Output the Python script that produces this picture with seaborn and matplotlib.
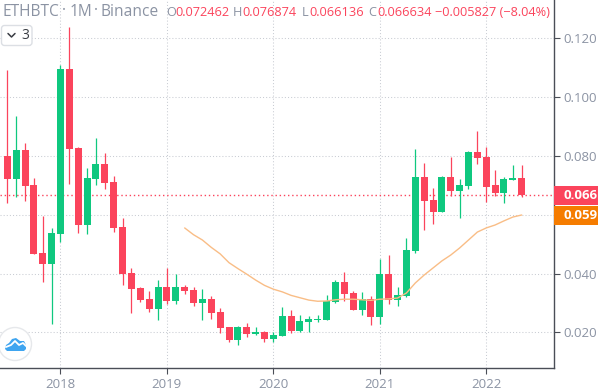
import numpy as np
import pandas as pd
import seaborn as sns
import matplotlib.pyplot as plt
from matplotlib.patches import Circle, FancyBboxPatch, Polygon, Rectangle

# monthly candles, index 0 is January 2018
months = list(range(-6, 53))
opens = [.0799, .0721, .0820, .0701, .0470, .0433, .0534, .1095, .0826, .0565, .0721, .0772, .0711,
         .0558, .0402, .0351, .0314, .0280, .0354, .0307, .0354, .0344, .0300, .0314, .0270,
         .0219, .0174, .0219, .0195, .0202, .0178, .0188, .0256, .0205, .0236, .0242, .0242,
         .0304, .0371, .0334, .0276, .0314, .0253, .0399, .0310, .0324, .0477, .0728, .0650,
         .0609, .0728, .0680, .0697, .0813, .0796, .0701, .0674, .0718, .0725]
highs = [.1091, .0935, .0843, .0725, .0596, .0555, .1108, .1237, .0830, .0759, .0860, .0809, .0731,
         .0589, .0419, .0354, .0341, .0378, .0419, .0399, .0361, .0354, .0348, .0324, .0283,
         .0219, .0222, .0232, .0219, .0205, .0202, .0287, .0276, .0259, .0256, .0259, .0327,
         .0378, .0405, .0341, .0338, .0324, .0450, .0463, .0354, .0521, .0823, .0775, .0691,
         .0731, .0796, .0721, .0816, .0884, .0830, .0752, .0728, .0769, .0769]
lows = [.0640, .0660, .0646, .0467, .0371, .0229, .0507, .0704, .0538, .0534, .0701, .0687, .0541,
        .0361, .0266, .0304, .0270, .0242, .0297, .0297, .0331, .0290, .0242, .0246, .0198,
        .0168, .0158, .0185, .0192, .0168, .0168, .0188, .0198, .0202, .0202, .0236, .0242,
        .0300, .0307, .0276, .0259, .0225, .0229, .0297, .0290, .0320, .0470, .0548, .0568,
        .0609, .0663, .0589, .0687, .0772, .0643, .0663, .0640, .0718, .0661]
closes = [.0721, .0820, .0697, .0467, .0433, .0538, .1095, .0823, .0565, .0725, .0772, .0708, .0555,
          .0399, .0348, .0310, .0280, .0354, .0307, .0354, .0341, .0300, .0314, .0266, .0215,
          .0174, .0219, .0195, .0202, .0178, .0192, .0256, .0205, .0239, .0246, .0246, .0307,
          .0371, .0331, .0276, .0314, .0253, .0399, .0310, .0327, .0480, .0728, .0646, .0609,
          .0728, .0680, .0701, .0813, .0792, .0694, .0674, .0721, .0725, .0666]

ma_months = list(range(14, 53))
ma_values = [.0555, .0532, .0514, .0489, .0467, .0437, .0417, .0398, .0378, .0360, .0347, .0338, .0326,
             .0318, .0310, .0306, .0307, .0311, .0313, .0313, .0311, .0309, .0313, .0314, .0317,
             .0334, .0368, .0395, .0419, .0443, .0463, .0487, .0514, .0541, .0555, .0565, .0579,
             .0592, .0599]

year_ticks = [0, 12, 24, 36, 48]
year_labels = ['2018', '2019', '2020', '2021', '2022']
price_ticks = [0.02, 0.04, 0.06, 0.08, 0.10, 0.12]
price_labels = ['0.020', '0.040', '0.060', '0.080', '0.100', '0.120']

RED = '#fb445c'
GREEN = '#0fc87f'
ORANGE = '#f57c00'
MA_COLOR = '#f9bd86'
GREY = '#8b93a3'
GRID = '#c9ccd3'
AXIS = '#4a4e57'
DOTS = (0, (1, 2))

sns.set_theme(style='white')
plt.rcParams['font.family'] = ['Open Sans', 'DejaVu Sans']

df = pd.DataFrame({'month': months, 'open': opens, 'high': highs, 'low': lows, 'close': closes})
df['color'] = np.where(df['close'] >= df['open'], GREEN, RED)
ma = pd.DataFrame({'month': ma_months, 'ma': ma_values})

fig = plt.figure(figsize=(5.98, 3.91), dpi=100, facecolor='white')
ax = fig.add_axes([0, 1 - 368 / 391, 554 / 598, 368 / 391])

ax.grid(True, color=GRID, linestyle=DOTS, linewidth=0.75)
ax.set_axisbelow(True)

ax.vlines(df['month'], df['low'], df['high'], colors=df['color'], linewidth=0.9, zorder=2)
ax.bar(df['month'], (df['close'] - df['open']).abs(), bottom=df[['open', 'close']].min(axis=1),
       width=0.79, color=df['color'], linewidth=0, zorder=3)
sns.lineplot(data=ma, x='month', y='ma', ax=ax, color=MA_COLOR, linewidth=1, zorder=4)
ax.axhline(closes[-1], color=RED, linestyle=DOTS, linewidth=1, zorder=1)

ax.set_xlim(-6.82, 55.64)
ax.set_ylim(0.00794, 0.1329)
ax.set_xlabel('')
ax.set_ylabel('')
ax.set_xticks(year_ticks, year_labels)
ax.set_yticks(price_ticks, price_labels)
ax.yaxis.tick_right()
ax.tick_params(axis='both', length=4, width=0.8, color=AXIS, labelcolor=GREY, labelsize=9.5, pad=3,
               bottom=True, right=True)
for side in ['top', 'left']:
    ax.spines[side].set_visible(False)
for side in ['bottom', 'right']:
    ax.spines[side].set_color(AXIS)
    ax.spines[side].set_linewidth(1)

# overlay in pixel coordinates for the header, the tags and the logo
top = fig.add_axes([0, 0, 1, 1], facecolor='none')
top.set_xlim(0, 598)
top.set_ylim(391, 0)
top.axis('off')

title_parts = [(2, 'ETHBTC'), (61.5, '·'), (70, '1M'), (94, '·'), (101, 'Binance')]
for x, label in title_parts:
    top.text(x, 11.5, label, color=GREY, fontsize=11.2, va='center')
header = [(166, 'O', GREY), (175, '0.072462', RED), (233, 'H', GREY), (242, '0.076874', RED),
          (302, 'L', GREY), (309, '0.066136', RED), (368, 'C', GREY), (377, '0.066634', RED),
          (435, '−0.005827 (−8.04%)', RED)]
for x, label, color in header:
    top.text(x, 12, label, color=color, fontsize=9.2, va='center')

top.add_patch(FancyBboxPatch((1.5, 25.5), 30.5, 20, boxstyle='round,pad=0,rounding_size=3',
                             facecolor='white', edgecolor='#dcdfe4', linewidth=1))
top.plot([8, 11.5, 15], [33.5, 37, 33.5], color='#3a3d44', linewidth=1.1)
top.text(21.5, 35.5, '3', color='#3a3d44', fontsize=10, va='center')

# last price tags
top.add_patch(Rectangle((554, 186), 44, 19, facecolor=RED, edgecolor='none'))
top.add_patch(Rectangle((554, 206), 44, 19, facecolor=ORANGE, edgecolor='none'))
top.text(563, 195.5, '0.066', color='white', fontsize=9.5, fontweight='bold', va='center')
top.text(563, 215.5, '0.059', color='white', fontsize=9.5, fontweight='bold', va='center')

# logo
top.add_patch(Circle((15, 344), 16.5, facecolor='white', edgecolor='#e6e8eb', linewidth=1))
top.add_patch(Polygon([(5, 349), (6, 345), (9, 343), (12, 339), (16, 338), (20, 341), (24, 341),
                       (26, 345), (26, 349), (24, 351), (7, 351)],
                      closed=True, facecolor='#3fa5f0', edgecolor='none'))
top.plot([6, 11, 15, 19, 23, 26], [347, 345, 341, 345, 343, 346], color='white', linewidth=1.3)

plt.savefig('out.png', dpi=100)
